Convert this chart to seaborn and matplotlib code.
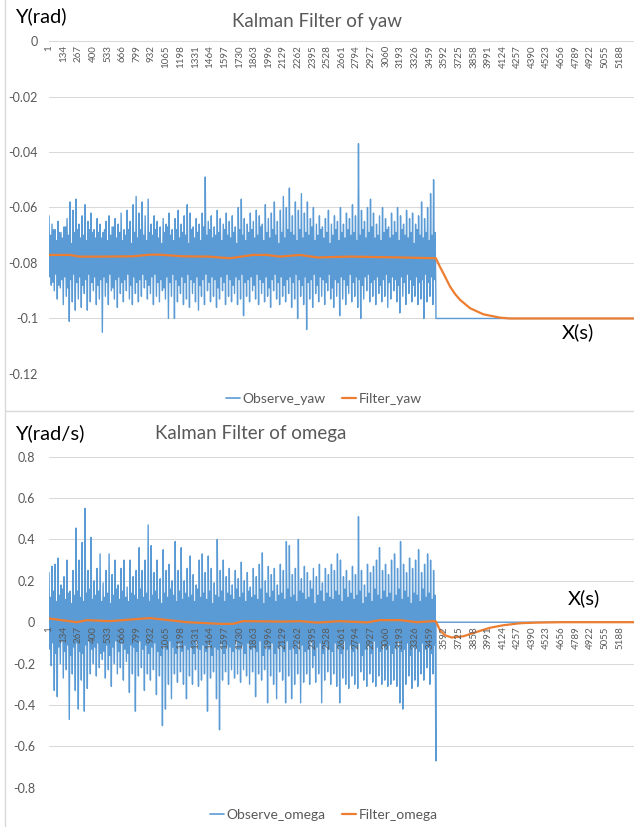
import numpy as np
import pandas as pd
import matplotlib
matplotlib.use('Agg')
import matplotlib.pyplot as plt
from matplotlib.lines import Line2D
import seaborn as sns

# Colours of the Excel office theme
BLUE = '#5B9BD5'
ORANGE = '#ED7D31'
GRID = '#D9D9D9'
TEXT = '#595959'

yaw_hi_mrad = [-63, -66, -68, -65, -69, -67, -64, -58, -61, -57, -66, -63, -59, -65, -62, -68,
               -64, -66, -69, -65, -63, -67, -64, -66, -62, -68, -61, -65, -59, -56, -62, -58,
               -63, -57, -66, -63, -65, -67, -64, -66, -62, -68, -64, -61, -66, -63, -59, -62,
               -67, -64, -66, -62, -49, -65, -63, -67, -61, -64, -66, -62, -65, -63, -67, -60,
               -57, -64, -66, -62, -65, -61, -63, -66, -59, -64, -62, -58, -65, -61, -56, -60,
               -53, -63, -58, -61, -55, -62, -58, -64, -60, -66, -63, -67, -64, -61, -66, -63,
               -65, -60, -66, -62, -64, -59, -63, -37, -61, -65, -60, -57, -62, -66, -63, -60,
               -64, -67, -62, -65, -60, -63, -66, -61, -64, -62, -66, -63, -58, -64, -60, -55, -50]
yaw_lo_mrad = [-88, -90, -93, -89, -95, -92, -101, -94, -97, -93, -96, -91, -97, -94, -90, -95,
               -93, -105, -92, -95, -90, -93, -96, -91, -94, -90, -93, -95, -91, -94, -92, -89,
               -93, -91, -95, -92, -94, -90, -93, -100, -92, -100, -94, -91, -95, -93, -96, -91,
               -94, -97, -92, -95, -90, -94, -92, -96, -93, -90, -95, -92, -94, -91, -95, -93,
               -99, -92, -94, -90, -93, -95, -91, -94, -92, -96, -90, -93, -95, -92, -94, -91,
               -96, -93, -100, -92, -95, -104, -93, -96, -91, -94, -92, -95, -90, -93, -96, -92,
               -99, -93, -95, -91, -94, -92, -96, -100, -93, -90, -94, -92, -95, -91, -94, -92,
               -96, -93, -90, -94, -98, -92, -95, -91, -94, -92, -95, -93, -100, -94, -92, -95, -91]
# smaller swings inside the solid band
yaw_mid_up_mrad = [-70, -68, -72, -69, -71, -67, -70, -73, -69, -68, -71, -70, -72, -68, -69, -71,
                   -69, -71, -68, -72, -70, -67, -71, -69, -72, -70, -68, -73, -69, -71, -68, -70,
                   -72, -69, -70, -68, -71, -73, -69, -67, -70, -72, -68, -71, -69, -70, -73, -68,
                   -71, -69, -72, -67, -70, -68, -71, -70, -69, -72, -68, -70, -71, -69, -73, -68,
                   -70, -72, -69, -68, -71, -70, -67, -72, -69, -71, -68, -70, -73, -69, -71, -68,
                   -69, -70, -72, -68, -71, -69, -70, -67, -72, -70, -68, -71, -69, -73, -70, -68,
                   -72, -69, -71, -68, -70, -69, -72, -70, -68, -71, -69, -67, -71, -70, -72, -69,
                   -68, -71, -70, -69, -72, -68, -70, -71, -69, -73, -68, -70, -71, -69, -72, -70, -69]
yaw_mid_dn_mrad = [-85, -87, -84, -88, -86, -85, -89, -86, -84, -87, -85, -88, -86, -84, -87, -85,
                   -88, -86, -85, -87, -84, -89, -86, -85, -87, -86, -84, -88, -85, -87, -86, -84,
                   -86, -88, -85, -84, -87, -86, -89, -85, -87, -84, -86, -88, -85, -87, -84, -86,
                   -87, -85, -88, -86, -84, -87, -85, -86, -89, -85, -87, -84, -86, -88, -85, -86,
                   -84, -87, -86, -85, -88, -84, -86, -87, -85, -89, -86, -84, -87, -85, -88, -86,
                   -85, -87, -84, -86, -88, -85, -87, -86, -84, -88, -85, -86, -87, -84, -89, -86,
                   -87, -85, -86, -88, -84, -87, -85, -86, -88, -85, -84, -87, -86, -85, -88, -86,
                   -84, -87, -85, -86, -88, -85, -87, -84, -86, -88, -85, -87, -86, -84, -87, -85, -86]
yaw_rest = -0.1

# Filtered yaw, read at sample indices
yaw_filt_x = [1, 190, 280, 460, 760, 920, 1000, 1220, 1450, 1645, 1850, 1980, 2100, 2280, 2440,
              2740, 3190, 3515, 3550, 3583, 3644, 3690, 3735, 3826, 3947, 4098, 4189, 4400, 5315]
yaw_filt_v = [-0.0771, -0.0771, -0.0777, -0.0777, -0.0776, -0.0770, -0.0770, -0.0776, -0.0777,
              -0.0783, -0.0771, -0.0771, -0.0777, -0.0771, -0.0780, -0.0777, -0.0780, -0.0783,
              -0.0812, -0.0837, -0.0885, -0.0912, -0.0933, -0.0963, -0.0985, -0.0997, -0.1000,
              -0.1, -0.1]

# Observed omega (mrad/s): upper and lower swings
omega_hi_mrad = [240, 270, 280, 310, 180, 220, 300, 150, 250, 455, 300, 385, 550, 250, 410, 200,
                 260, 330, 190, 250, 330, 230, 300, 180, 260, 300, 170, 300, 220, 250, 360, 250,
                 300, 470, 370, 240, 300, 210, 350, 250, 280, 200, 390, 250, 360, 200, 260, 320,
                 230, 180, 300, 330, 240, 320, 260, 190, 400, 250, 300, 220, 260, 180, 250, 210,
                 290, 200, 240, 170, 260, 220, 280, 335, 200, 270, 230, 260, 180, 280, 250, 390,
                 370, 230, 260, 400, 210, 270, 240, 200, 260, 220, 280, 190, 260, 230, 280, 250,
                 330, 300, 220, 250, 200, 270, 230, 510, 250, 180, 280, 240, 270, 300, 360, 250,
                 280, 230, 300, 330, 260, 390, 280, 240, 310, 260, 300, 350, 240, 280, 330, 300, 250]
omega_lo_mrad = [-210, -330, -360, -200, -270, -230, -470, -250, -330, -420, -280, -430, -320, -250,
                 -200, -260, -220, -180, -270, -230, -310, -200, -250, -220, -280, -190, -340, -250,
                 -430, -260, -220, -330, -250, -280, -230, -350, -260, -500, -420, -300, -370, -250,
                 -290, -240, -300, -370, -260, -300, -230, -310, -280, -250, -430, -270, -240, -370,
                 -520, -280, -240, -300, -230, -270, -250, -290, -230, -260, -300, -240, -360, -250,
                 -280, -230, -390, -260, -300, -370, -240, -280, -390, -260, -370, -300, -250, -390,
                 -290, -250, -300, -220, -290, -250, -390, -280, -240, -300, -250, -310, -390, -270,
                 -300, -320, -260, -300, -320, -240, -280, -310, -250, -290, -310, -260, -300, -280,
                 -310, -300, -280, -310, -390, -420, -300, -260, -320, -280, -310, -250, -280, -220,
                 -300, -250, -670]
omega_mid_up_mrad = [120, 150, 100, 130, 160, 110, 140, 90, 130, 150, 120, 100, 140, 160, 110, 130,
                     150, 100, 120, 140, 90, 130, 160, 110, 150, 120, 100, 140, 130, 110, 160, 120,
                     140, 100, 130, 150, 110, 90, 140, 120, 160, 130, 100, 150, 110, 140, 120, 130,
                     100, 160, 120, 140, 110, 150, 90, 130, 120, 150, 100, 140, 130, 110, 160, 120,
                     140, 100, 150, 120, 130, 110, 160, 90, 140, 120, 150, 100, 130, 140, 110, 160,
                     120, 130, 100, 150, 140, 110, 120, 160, 90, 130, 150, 100, 140, 120, 110, 150,
                     130, 100, 160, 120, 140, 110, 130, 150, 90, 120, 140, 100, 160, 130, 110, 150,
                     120, 140, 100, 130, 160, 110, 150, 120, 90, 140, 130, 100, 160, 120, 140, 110, 130]
omega_mid_dn_mrad = [-130, -100, -150, -120, -90, -140, -110, -160, -120, -100, -140, -150, -110, -90,
                     -130, -120, -100, -150, -140, -110, -160, -120, -90, -140, -100, -130, -150, -110,
                     -120, -140, -90, -130, -110, -150, -120, -100, -140, -160, -110, -130, -90, -120,
                     -150, -100, -140, -110, -130, -120, -150, -90, -130, -110, -140, -100, -160, -120,
                     -130, -100, -150, -110, -120, -140, -90, -130, -110, -150, -100, -130, -120, -140,
                     -90, -160, -110, -130, -100, -150, -120, -110, -140, -90, -130, -120, -150, -100,
                     -110, -140, -130, -90, -160, -120, -100, -150, -110, -130, -140, -100, -120, -150,
                     -90, -130, -110, -140, -120, -100, -160, -130, -110, -150, -90, -120, -140, -100,
                     -130, -110, -150, -120, -90, -140, -130, -100, -160, -110, -120, -140, -100, -130,
                     -120, -150, -110]
omega_rest = 0.0

# Filtered omega, read at sample indices
omega_filt_x = [1, 255, 345, 555, 918, 1255, 1555, 1672, 1763, 2127, 2281, 2436, 2644, 2890, 3008,
                3190, 3343, 3490, 3515, 3553, 3598, 3659, 3765, 3886, 4007, 4125, 4280, 4434, 4650, 5315]
omega_filt_v = [0.018, 0.0, 0.010, 0.005, 0.020, 0.0, -0.008, -0.008, 0.005, 0.003, 0.005, -0.002,
                0.005, -0.001, 0.010, 0.010, 0.0, 0.005, 0.004, -0.039, -0.063, -0.074, -0.068,
                -0.047, -0.027, -0.015, -0.005, -0.002, 0.0, 0.0]

n_last = 3515
x_end = 5315
x_ticks = list(range(1, 5189, 133))


def observed(hi, mid_dn, mid_up, lo, rest):
    vals = np.ravel(np.column_stack([hi, mid_dn, mid_up, lo])) / 1000.0
    xs = np.linspace(1, n_last, len(vals))
    return pd.DataFrame({'x': np.concatenate([xs, [n_last + 1, x_end]]),
                         'y': np.concatenate([vals, [rest, rest]])})


sns.set_theme(style='white')
plt.rcParams['font.family'] = ['Lato', 'DejaVu Sans']

fig = plt.figure(figsize=(6.34, 8.27), dpi=100)
ax1 = fig.add_axes([0.0773, 0.5478, 0.9227, 0.4026])
ax2 = fig.add_axes([0.0773, 0.0475, 0.9227, 0.4003])

obs_yaw = observed(yaw_hi_mrad, yaw_mid_dn_mrad, yaw_mid_up_mrad, yaw_lo_mrad, yaw_rest)
obs_omega = observed(omega_hi_mrad, omega_mid_dn_mrad, omega_mid_up_mrad, omega_lo_mrad, omega_rest)

panels = [
    (ax1, obs_yaw, yaw_filt_x, yaw_filt_v, 'Observe_yaw', 'Filter_yaw',
     np.round(np.arange(-0.12, 0.001, 0.02), 2), (-0.12, 0), 8),
    (ax2, obs_omega, omega_filt_x, omega_filt_v, 'Observe_omega', 'Filter_omega',
     np.round(np.arange(-0.8, 0.81, 0.2), 1), (-0.8, 0.8), 10),
]

for ax, obs, fx, fv, lab_obs, lab_filt, yt, ylim, ypad in panels:
    sns.lineplot(data=obs, x='x', y='y', ax=ax, color=BLUE, linewidth=1.0,
                 estimator=None, sort=False, label=lab_obs)
    sns.lineplot(x=fx, y=fv, ax=ax, color=ORANGE, linewidth=1.6,
                 estimator=None, sort=False, label=lab_filt)
    ax.set_xlim(1, x_end)
    ax.set_ylim(*ylim)
    ax.set_yticks(yt)
    ax.set_yticklabels(['0' if v == 0 else f'{v:g}' for v in yt])
    ax.set_xticks(x_ticks)
    ax.set_xticklabels([str(t) for t in x_ticks])
    ax.set_xlabel('')
    ax.set_ylabel('')
    # gridlines behind the data, tick labels over it (as Excel draws them)
    ax.grid(False)
    for v in yt:
        ax.axhline(v, color=GRID, linewidth=0.75, zorder=0.5)
    ax.set_axisbelow(False)
    for s in ['left', 'right', 'top']:
        ax.spines[s].set_visible(False)
    ax.spines['bottom'].set_position(('data', 0))
    ax.spines['bottom'].set_color(GRID)
    ax.spines['bottom'].set_linewidth(0.75)
    ax.spines['bottom'].set_zorder(0.6)
    ax.tick_params(axis='x', length=0, pad=3, labelsize=7, labelcolor=TEXT, labelrotation=90)
    ax.tick_params(axis='y', length=0, pad=ypad, labelsize=9, labelcolor=TEXT)
    ax.get_legend().remove()

# legends under each chart, with thin line keys as in the original
for ax, ypos in [(ax1, 399), (ax2, 815)]:
    labels = ax.get_legend_handles_labels()[1]
    keys = [Line2D([], [], color=BLUE, linewidth=1.2), Line2D([], [], color=ORANGE, linewidth=1.6)]
    fig.legend(keys, labels, loc='center', bbox_to_anchor=(324 / 634, 1 - ypos / 827), ncol=2,
               frameon=False, fontsize=10, labelcolor=TEXT, handlelength=1.0,
               handletextpad=0.2, columnspacing=1.2)

# titles and axis names
fig.text(317 / 634, 1 - 22 / 827, 'Kalman Filter of yaw', ha='center', va='center',
         fontsize=13.5, color=TEXT)
fig.text(15 / 634, 1 - 16 / 827, 'Y(rad)', ha='left', va='center', fontsize=14.5, color='black')
fig.text(578 / 634, 1 - 332 / 827, 'X(s)', ha='center', va='center', fontsize=14.5, color='black')

fig.text(155 / 634, 1 - 433 / 827, 'Kalman Filter of omega', ha='left', va='center',
         fontsize=13.5, color=TEXT)
fig.text(15 / 634, 1 - 433 / 827, 'Y(rad/s)', ha='left', va='center', fontsize=14.5, color='black')
fig.text(584 / 634, 1 - 598 / 827, 'X(s)', ha='center', va='center', fontsize=14.5, color='black')

# chart frame edges
fig.add_artist(Line2D([5 / 634, 5 / 634], [0, 1], color=GRID, linewidth=1))
fig.add_artist(Line2D([5 / 634, 1], [1 - 411 / 827, 1 - 411 / 827], color=GRID, linewidth=1))

fig.savefig('out.png', dpi=100)
